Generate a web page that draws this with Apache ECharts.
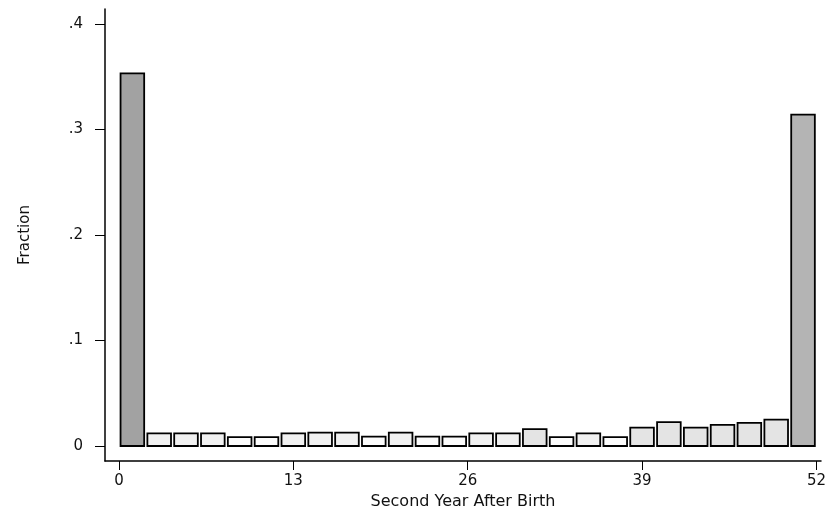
<!DOCTYPE html>
<html>
<head>
<meta charset="utf-8">
<script src="https://cdn.jsdelivr.net/npm/echarts@6/dist/echarts.min.js"></script>
<style>
  html, body { margin: 0; padding: 0; background: #fff; }
  #chart { width: 830px; height: 517px; }
</style>
</head>
<body>
<div id="chart"></div>
<script>
// Histogram bins (left edge of each 2-week bin)
const binStarts = [0, 2, 4, 6, 8, 10, 12, 14, 16, 18, 20, 22, 24, 26, 28, 30, 32, 34, 36, 38, 40, 42, 44, 46, 48, 50];
const binWidth = 2;
// Fraction in each bin
const fractions = [0.353, 0.012, 0.012, 0.012, 0.0085, 0.0085, 0.012, 0.0126, 0.0126, 0.0088, 0.0126, 0.0088, 0.0088,
                   0.012, 0.012, 0.016, 0.0085, 0.012, 0.0085, 0.0175, 0.0227, 0.0175, 0.020, 0.022, 0.025, 0.314];
const xTicks = [0, 13, 26, 39, 52];
const yTicks = [0, 0.1, 0.2, 0.3, 0.4];
const xTitle = 'Second Year After Birth';
const yTitle = 'Fraction';

const data = binStarts.map((b, i) => [b, fractions[i]]);

const chart = echarts.init(document.getElementById('chart'), null, { renderer: 'canvas' });
const font = 'DejaVu Sans';

function fillFor(v, i) {
  if (v > 0.34) return '#a2a2a2';
  if (v > 0.2) return '#b4b4b4';
  if (v >= 0.016) return '#e4e4e4';
  if (v >= 0.011) return '#f1f1f1';
  return '#fbfbfb';
}

chart.setOption({
  animation: false,
  backgroundColor: '#ffffff',
  grid: { left: 105, right: 9, top: 9, bottom: 56, containLabel: false },
  xAxis: {
    type: 'value',
    min: -1.04,
    max: 52.34,
    name: xTitle,
    nameLocation: 'middle',
    nameGap: 27,
    nameTextStyle: { fontFamily: font, fontSize: 16, color: '#111' },
    axisLine: { show: true, onZero: false, lineStyle: { color: '#000', width: 1.5 } },
    axisTick: { show: true, length: 9, customValues: xTicks, lineStyle: { color: '#000', width: 1 } },
    axisLabel: { customValues: xTicks, margin: 13, fontFamily: font, fontSize: 15, color: '#111' },
    splitLine: { show: false }
  },
  yAxis: {
    type: 'value',
    min: -0.0142,
    max: 0.414,
    name: yTitle,
    nameLocation: 'middle',
    nameGap: 72,
    nameRotate: 90,
    nameTextStyle: { fontFamily: font, fontSize: 15, color: '#111' },
    axisLine: { show: true, onZero: false, lineStyle: { color: '#000', width: 1.5 } },
    axisTick: { show: true, length: 10, customValues: yTicks, lineStyle: { color: '#000', width: 1 } },
    axisLabel: {
      customValues: yTicks, margin: 22, fontFamily: font, fontSize: 15, color: '#111',
      formatter: v => (Math.abs(v) < 1e-9 ? '0' : String(Math.round(v * 10) / 10).replace(/^0\./, '.'))
    },
    splitLine: { show: false }
  },
  series: [{
    type: 'custom',
    data: data,
    encode: { x: 0, y: 1 },
    renderItem: function (params, api) {
      const x = api.value(0);
      const v = api.value(1);
      const p0 = api.coord([x, 0]);
      const p1 = api.coord([x + binWidth, v]);
      const inset = 1.6;
      return {
        type: 'rect',
        shape: { x: p0[0] + inset, y: p1[1], width: p1[0] - p0[0] - 2 * inset, height: p0[1] - p1[1] },
        style: { fill: fillFor(v, params.dataIndex), stroke: '#000', lineWidth: 1.8 }
      };
    }
  }]
});
</script>
</body>
</html>
